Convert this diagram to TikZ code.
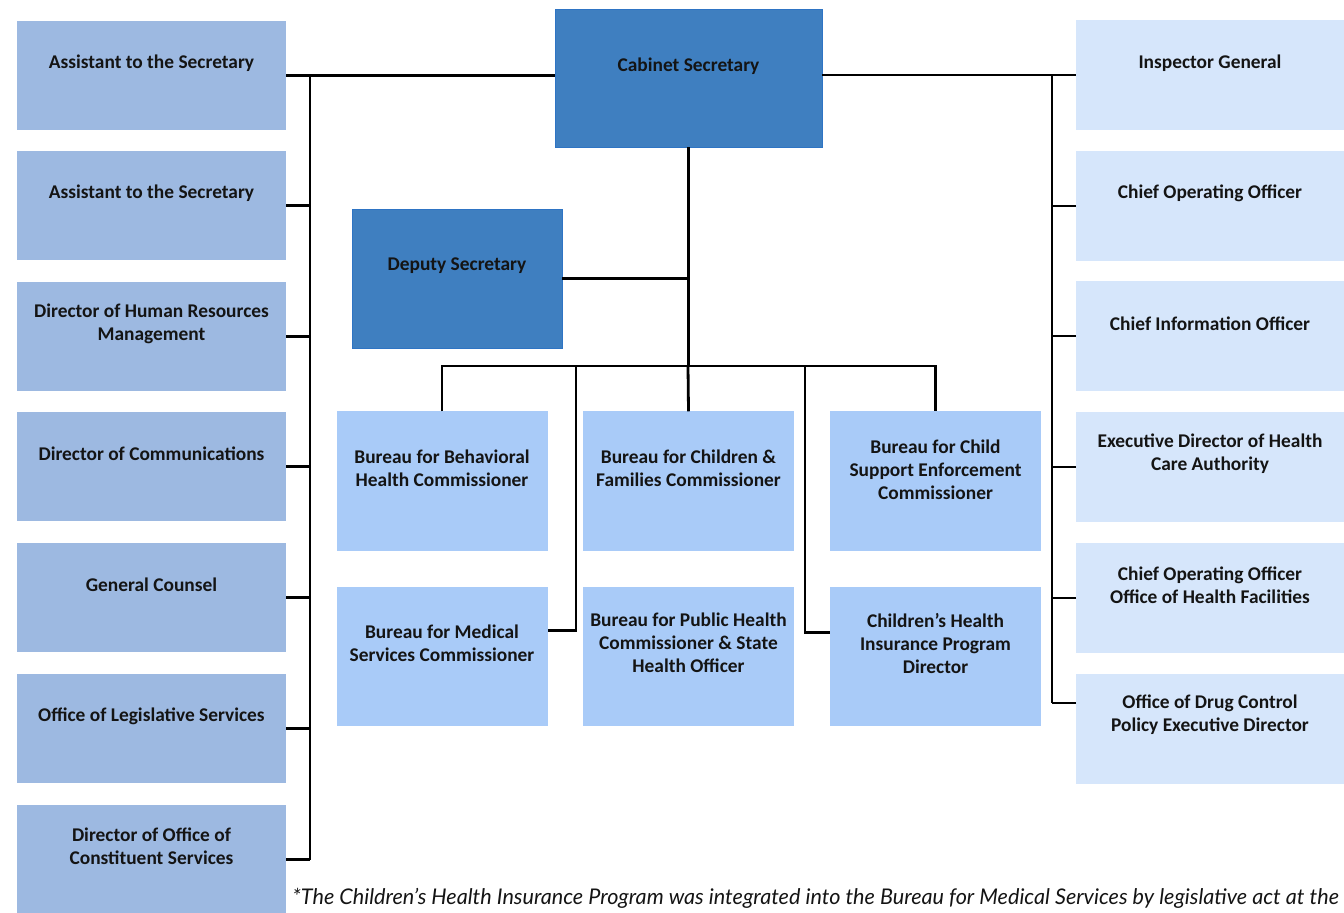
\documentclass[tikz,border=0pt]{standalone}
\usepackage{fontspec}
\setmainfont{Carlito}
\newfontfamily\notefont{Lato}
\usetikzlibrary{calc}
\definecolor{lfill}{HTML}{9DB9E1}
\definecolor{rfill}{HTML}{D6E6FB}
\definecolor{mfill}{HTML}{A9CBF8}
\definecolor{dfill}{HTML}{3F7FC0}
\definecolor{dline}{HTML}{2E74C4}
\definecolor{txtc}{HTML}{141414}
\begin{document}
\begin{tikzpicture}[x=0.5pt,y=-0.5pt,
  box/.style={rectangle,inner sep=0pt,outer sep=0pt},
  lbox/.style={box,fill=lfill,minimum width=134.5pt,minimum height=54.5pt},
  rbox/.style={box,fill=rfill,minimum width=134pt,minimum height=55pt},
  mbox/.style={box,fill=mfill,minimum width=105.5pt,minimum height=69.75pt},
  dbox/.style={box,fill=dfill,draw=dline,line width=0.5pt},
  txt/.style={font=\fontsize{9.7}{11.5}\selectfont\bfseries,text=txtc,align=center,inner sep=0pt},
  conn/.style={line width=1.4pt,black}]
\useasboundingbox (0,0) rectangle (1344,912);

% left column
\node[lbox] (l1) at (151.5,75.5) {};
\node[lbox] (l2) at (151.5,205.5) {};
\node[lbox] (l3) at (151.5,336.5) {};
\node[lbox] (l4) at (151.5,466.5) {};
\node[lbox] (l5) at (151.5,597.5) {};
\node[lbox] (l6) at (151.5,728.5) {};
\node[lbox] (l7) at (151.5,859.5) {};
\node[txt] (l1t) at (151.5,63) {Assistant to the Secretary};
\node[txt] (l2t) at (151.5,193) {Assistant to the Secretary};
\node[txt] (l3t) at (151.5,324) {Director of Human Resources\\Management};
\node[txt] (l4t) at (151.5,454) {Director of Communications};
\node[txt] (l5t) at (151.5,585) {General Counsel};
\node[txt] (l6t) at (151.5,716) {Office of Legislative Services};
\node[txt] (l7t) at (151.5,846) {Director of Office of\\Constituent Services};

% right column
\node[rbox] (r1) at (1210,75) {};
\node[rbox] (r2) at (1210,206) {};
\node[rbox] (r3) at (1210,336) {};
\node[rbox] (r4) at (1210,467) {};
\node[rbox] (r5) at (1210,598) {};
\node[rbox] (r6) at (1210,729) {};
\node[txt] (r1t) at (1210,63) {Inspector General};
\node[txt] (r2t) at (1210,193) {Chief Operating Officer};
\node[txt] (r3t) at (1210,324) {Chief Information Officer};
\node[txt] (r4t) at (1210,454) {Executive Director of Health\\Care Authority};
\node[txt] (r5t) at (1210,585) {Chief Operating Officer\\Office of Health Facilities};
\node[txt] (r6t) at (1210,715) {Office of Drug Control\\Policy Executive Director};

% top
\node[dbox,minimum width=133.5pt,minimum height=69pt] (cab) at (688.5,78) {};
\node[txt] (cabt) at (688.5,66) {Cabinet Secretary};
\node[dbox,minimum width=105pt,minimum height=69.5pt] (dep) at (457,278.5) {};
\node[txt] (dept) at (457,266) {Deputy Secretary};

% middle
\node[mbox] (m1) at (442,481) {};
\node[mbox] (m2) at (688.5,481) {};
\node[mbox] (m3) at (935.5,481) {};
\node[mbox] (m4) at (442,656.5) {};
\node[mbox] (m5) at (688.5,656.5) {};
\node[mbox] (m6) at (935.5,656.5) {};
\node[txt] (m1t) at (442,468) {Bureau for Behavioral\\Health Commissioner};
\node[txt] (m2t) at (688.5,468) {Bureau for Children \&\\Families Commissioner};
\node[txt] (m3t) at (935.5,470) {Bureau for Child\\Support Enforcement\\Commissioner};
\node[txt] (m4t) at (442,643) {Bureau for Medical\\Services Commissioner};
\node[txt] (m5t) at (688.5,643) {Bureau for Public Health\\Commissioner \& State\\Health Officer};
\node[txt] (m6t) at (935.5,643) {Children's Health\\Insurance Program\\Director};

% connectors
\coordinate (lbus) at (310,0);
\coordinate (rbus) at (1052,0);
\coordinate (hub) at (688,366);
\coordinate (j1) at (576,366);
\coordinate (j2) at (805,366);

\draw[conn] (l1.east) -- (cab.west |- l1.east);
\draw[conn] (cab.east |- r1.west) -- (r1.west);
\draw[conn] (lbus |- l1.east) -- (lbus |- l7.east);
\foreach \i in {2,...,7} { \draw[conn] (l\i.east) -- (lbus |- l\i.east); }
\draw[conn] (rbus |- r1.west) -- (rbus |- 0,703);
\foreach \i in {2,...,5} { \draw[conn] (r\i.west) -- (rbus |- r\i.west); }
\draw[conn] ($(r6.north west)+(0,29)$) -- (rbus |- 0,703);

\draw[conn] (cab.south) -- (cab.south |- hub);
\draw[conn] (dep.east) -- (cab.south |- dep.east);
\draw[conn] (m1.north) -- (m1.north |- hub) -- (m3.north |- hub) -- (m3.north);
\draw[conn] (hub) -- (m2.north);
\draw[conn] (j1) |- ($(m4.north east)+(0,44)$);
\draw[conn] (j2) |- ($(m6.north west)+(0,46)$);

% footnote
\node[anchor=west,inner sep=0pt,text=txtc,font=\notefont\itshape\fontsize{10.8}{12}\selectfont] (fn) at (292,898)
  {*The Children’s Health Insurance Program was integrated into the Bureau for Medical Services by legislative act at the};
\end{tikzpicture}
\end{document}
